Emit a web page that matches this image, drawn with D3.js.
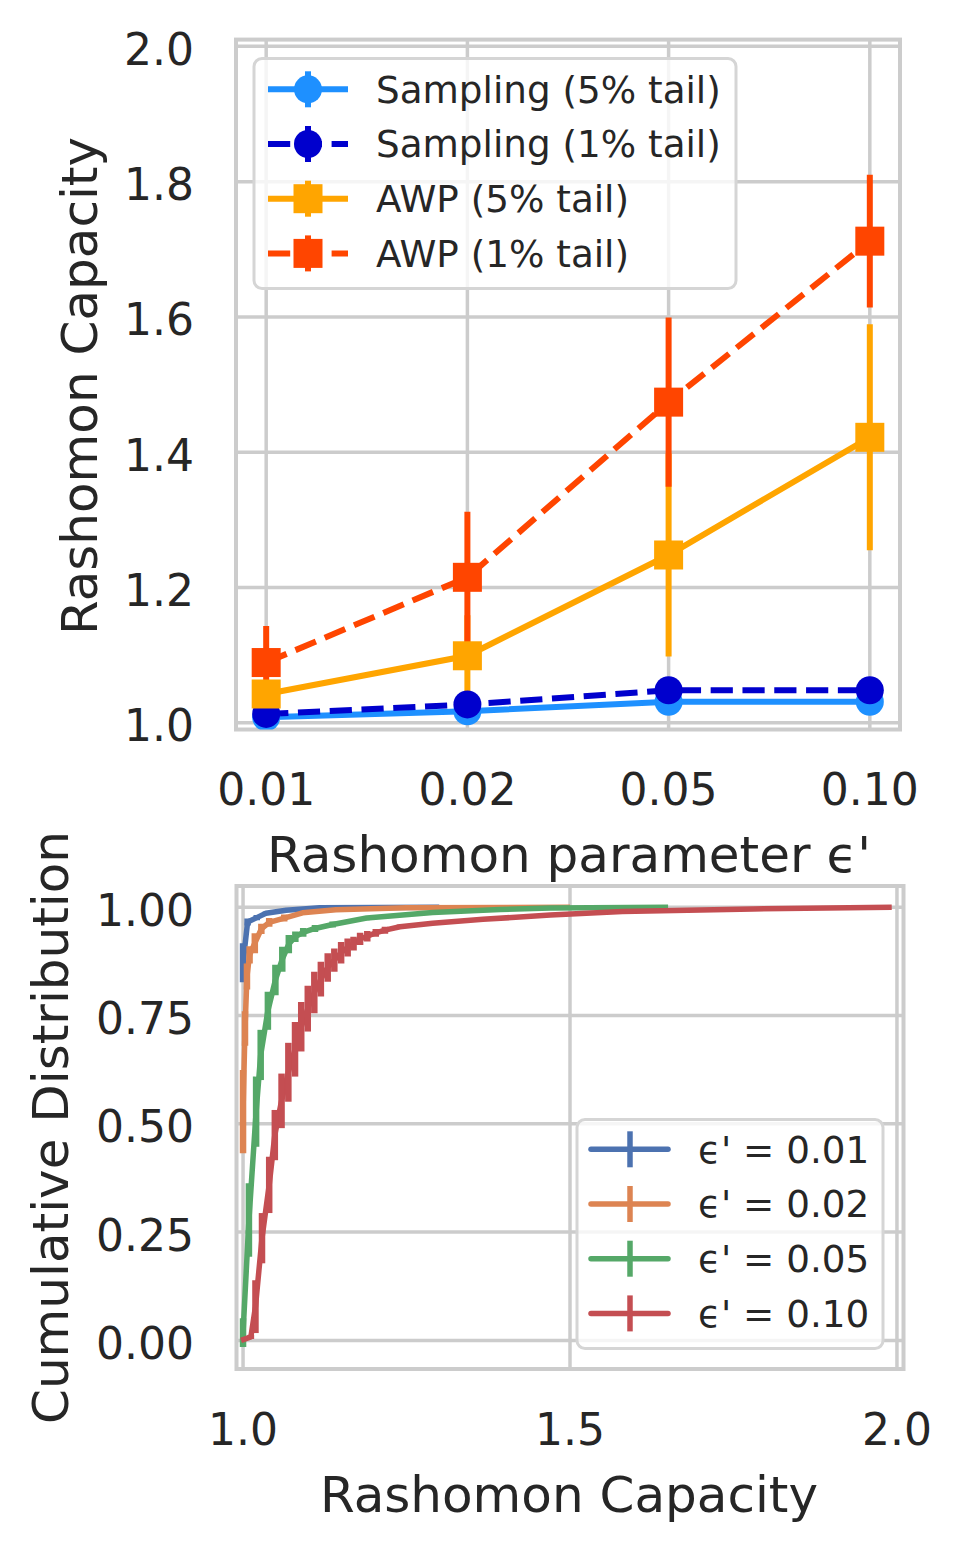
<!DOCTYPE html>
<html>
<head>
<meta charset="utf-8">
<script src="https://cdn.jsdelivr.net/npm/d3@7"></script>
<style>
  html, body { margin: 0; padding: 0; background: #ffffff; }
  svg { display: block; }
  text { font-family: "DejaVu Sans", sans-serif; fill: #262626; }
</style>
</head>
<body>
<svg id="chart" width="961" height="1548"></svg>
<script>
// ---------------- data: top panel ----------------
const epsLabels = ["0.01", "0.02", "0.05", "0.10"];
const sampling5 = [1.008, 1.017, 1.031, 1.031];
const sampling5Err = [0.004, 0.004, 0.004, 0.004];
const sampling1 = [1.013, 1.027, 1.048, 1.048];
const sampling1Err = [0.004, 0.004, 0.004, 0.004];
const awp5 = [1.0425, 1.099, 1.248, 1.422];
const awp5Err = [0.02, 0.06, 0.15, 0.167];
const awp1 = [1.089, 1.215, 1.474, 1.712];
const awp1Err = [0.054, 0.097, 0.125, 0.098];
const topYTicks = [1.0, 1.2, 1.4, 1.6, 1.8, 2.0];
const topSeriesNames = ["Sampling (5% tail)", "Sampling (1% tail)", "AWP (5% tail)", "AWP (1% tail)"];

// ---------------- data: bottom panel (CDF with error bars) ----------------
const cdfNames = ["\u03f5' = 0.01", "\u03f5' = 0.02", "\u03f5' = 0.05", "\u03f5' = 0.10"];
const cdf01x = [1.000, 1.007, 1.021, 1.035, 1.066, 1.117, 1.30];
const cdf01y = [0.872, 0.966, 0.976, 0.986, 0.993, 0.999, 1.0];
const cdf01e = [0.045, 0.008, 0.006, 0.004, 0.003, 0.001, 0.0];

const cdf02x = [1.000, 1.003, 1.006, 1.010, 1.018, 1.028, 1.040, 1.063, 1.091, 1.142, 1.25, 1.50];
const cdf02y = [0.528, 0.72, 0.84, 0.89, 0.917, 0.95, 0.965, 0.975, 0.987, 0.994, 0.999, 1.0];
const cdf02e = [0.096, 0.04, 0.03, 0.02, 0.023, 0.012, 0.01, 0.008, 0.004, 0.002, 0.001, 0.0];

const cdf05x = [1.000, 1.009, 1.020, 1.027, 1.038, 1.0495, 1.060, 1.070, 1.080, 1.092, 1.110, 1.137, 1.189, 1.29, 1.393, 1.47, 1.65];
const cdf05y = [0.018, 0.278, 0.528, 0.659, 0.761, 0.832, 0.88, 0.915, 0.932, 0.942, 0.951, 0.96, 0.975, 0.988, 0.995, 0.998, 1.0];
const cdf05e = [0.033, 0.085, 0.081, 0.058, 0.044, 0.035, 0.029, 0.021, 0.012, 0.01, 0.008, 0.007, 0.005, 0.003, 0.002, 0.001, 0.0];

const cdf10x = [0.997, 1.012, 1.019, 1.029, 1.040, 1.0486, 1.0589, 1.0693, 1.0795, 1.089, 1.099, 1.109, 1.119, 1.1295, 1.1396, 1.150, 1.160, 1.169, 1.179, 1.190, 1.203, 1.217, 1.24, 1.29, 1.367, 1.47, 1.58, 1.78, 1.992];
const cdf10y = [0.0, 0.008, 0.078, 0.236, 0.359, 0.474, 0.553, 0.619, 0.672, 0.724, 0.766, 0.803, 0.834, 0.861, 0.878, 0.895, 0.907, 0.916, 0.927, 0.933, 0.941, 0.947, 0.955, 0.963, 0.972, 0.982, 0.99, 0.996, 1.0];
const cdf10e = [0.0, 0.005, 0.061, 0.058, 0.065, 0.058, 0.063, 0.068, 0.063, 0.057, 0.053, 0.048, 0.04, 0.033, 0.027, 0.025, 0.021, 0.016, 0.014, 0.012, 0.009, 0.008, 0.005, 0.004, 0.003, 0.002, 0.002, 0.001, 0.0];

const botXTicks = [1.0, 1.5, 2.0];
const botYTicks = [0.0, 0.25, 0.5, 0.75, 1.0];

// ---------------- styles ----------------
const gridColor = "#cccccc";
const topColors = ["#1E90FF", "#0000CD", "#FFA500", "#FF4500"];
const topDashed = [false, true, false, true];
const topMarkers = ["circle", "circle", "square", "square"];
const cdfColors = ["#4C72B0", "#DD8452", "#55A868", "#C44E52"];
const dash = "22.2,9.6";

const svg = d3.select("#chart");

// ================= TOP PANEL =================
const tL = 236, tR = 900, tT = 39.6, tB = 729.5;
const tx = d3.scaleLinear().domain([-0.15, 3.15]).range([tL, tR]);
const ty = d3.scaleLinear().domain([0.99, 2.01]).range([tB, tT]);

svg.append("defs").append("clipPath").attr("id", "clipTop")
  .append("rect").attr("x", tL).attr("y", tT).attr("width", tR - tL).attr("height", tB - tT);
svg.select("defs").append("clipPath").attr("id", "clipBot")
  .append("rect").attr("x", 236.5).attr("y", 886).attr("width", 667).attr("height", 483);

const gTop = svg.append("g");
gTop.selectAll(".vg").data(epsLabels).join("line")
  .attr("x1", (d, i) => tx(i)).attr("x2", (d, i) => tx(i))
  .attr("y1", tT).attr("y2", tB)
  .attr("stroke", gridColor).attr("stroke-width", 3.5);
gTop.selectAll(".hg").data(topYTicks).join("line")
  .attr("x1", tL).attr("x2", tR)
  .attr("y1", d => ty(d)).attr("y2", d => ty(d))
  .attr("stroke", gridColor).attr("stroke-width", 3.5);
gTop.append("rect").attr("x", tL).attr("y", tT).attr("width", tR - tL).attr("height", tB - tT)
  .attr("fill", "none").attr("stroke", gridColor).attr("stroke-width", 4);

gTop.selectAll(".xt").data(epsLabels).join("text")
  .attr("x", (d, i) => tx(i)).attr("y", 805)
  .attr("text-anchor", "middle").attr("font-size", 44).text(d => d);
gTop.selectAll(".yt").data(topYTicks).join("text")
  .attr("x", 194).attr("y", d => ty(d) + 18.5)
  .attr("text-anchor", "end").attr("font-size", 44).text(d => d.toFixed(1));
gTop.append("text").attr("x", 569).attr("y", 872).attr("text-anchor", "middle")
  .attr("font-size", 50).text("Rashomon parameter \u03f5'");
gTop.append("text").attr("transform", "translate(97,386) rotate(-90)").attr("text-anchor", "middle")
  .attr("font-size", 50).text("Rashomon Capacity");

const topSeries = [
  { v: sampling5, e: sampling5Err },
  { v: sampling1, e: sampling1Err },
  { v: awp5, e: awp5Err },
  { v: awp1, e: awp1Err }
];
const plotTop = gTop.append("g").attr("clip-path", "url(#clipTop)");
topSeries.forEach((s, si) => {
  plotTop.selectAll(null).data(s.v).join("line")
    .attr("x1", (d, i) => tx(i)).attr("x2", (d, i) => tx(i))
    .attr("y1", (d, i) => ty(d - s.e[i])).attr("y2", (d, i) => ty(d + s.e[i]))
    .attr("stroke", topColors[si]).attr("stroke-width", 6);
});
const topLine = d3.line().x((d, i) => tx(i)).y(d => ty(d));
topSeries.forEach((s, si) => {
  plotTop.append("path").datum(s.v).attr("d", topLine)
    .attr("fill", "none").attr("stroke", topColors[si]).attr("stroke-width", 6)
    .attr("stroke-dasharray", topDashed[si] ? dash : null);
});
topSeries.forEach((s, si) => {
  if (topMarkers[si] === "circle") {
    plotTop.selectAll(null).data(s.v).join("circle")
      .attr("cx", (d, i) => tx(i)).attr("cy", d => ty(d)).attr("r", 14)
      .attr("fill", topColors[si]);
  } else {
    plotTop.selectAll(null).data(s.v).join("rect")
      .attr("x", (d, i) => tx(i) - 14.5).attr("y", d => ty(d) - 14.5)
      .attr("width", 29).attr("height", 29).attr("fill", topColors[si]);
  }
});

const lgT = gTop.append("g");
lgT.append("rect").attr("x", 254).attr("y", 58.5).attr("width", 482).attr("height", 230).attr("rx", 8)
  .attr("fill", "rgba(255,255,255,0.8)").attr("stroke", "#d5d5d5").attr("stroke-width", 3);
topSeriesNames.forEach((name, si) => {
  const yy = 89.3 + si * 54.7;
  const c = topColors[si];
  lgT.append("line").attr("x1", 268).attr("x2", 348).attr("y1", yy).attr("y2", yy)
    .attr("stroke", c).attr("stroke-width", 6).attr("stroke-dasharray", topDashed[si] ? dash : null);
  lgT.append("line").attr("x1", 308).attr("x2", 308).attr("y1", yy - 18).attr("y2", yy + 18)
    .attr("stroke", c).attr("stroke-width", 6);
  if (topMarkers[si] === "circle") {
    lgT.append("circle").attr("cx", 308).attr("cy", yy).attr("r", 14).attr("fill", c);
  } else {
    lgT.append("rect").attr("x", 308 - 14.5).attr("y", yy - 14.5).attr("width", 29).attr("height", 29).attr("fill", c);
  }
  lgT.append("text").attr("x", 376).attr("y", yy + 13.4).attr("font-size", 37.3).text(name);
});

// ================= BOTTOM PANEL =================
const bL = 236.5, bR = 903.5, bT = 886, bB = 1369;
const bx = d3.scaleLinear().domain([0.99, 2.01]).range([bL, bR]);
const by = d3.scaleLinear().domain([-0.066, 1.049]).range([bB, bT]);

const gBot = svg.append("g");
gBot.selectAll(".vg").data(botXTicks).join("line")
  .attr("x1", d => bx(d)).attr("x2", d => bx(d)).attr("y1", bT).attr("y2", bB)
  .attr("stroke", gridColor).attr("stroke-width", 3.5);
gBot.selectAll(".hg").data(botYTicks).join("line")
  .attr("x1", bL).attr("x2", bR).attr("y1", d => by(d)).attr("y2", d => by(d))
  .attr("stroke", gridColor).attr("stroke-width", 3.5);
gBot.append("rect").attr("x", bL).attr("y", bT).attr("width", bR - bL).attr("height", bB - bT)
  .attr("fill", "none").attr("stroke", gridColor).attr("stroke-width", 4);

gBot.selectAll(".xt").data(botXTicks).join("text")
  .attr("x", d => bx(d)).attr("y", 1445).attr("text-anchor", "middle").attr("font-size", 44)
  .text(d => d.toFixed(1));
gBot.selectAll(".yt").data(botYTicks).join("text")
  .attr("x", 194).attr("y", d => by(d) + 18.5).attr("text-anchor", "end").attr("font-size", 44)
  .text(d => d.toFixed(2));
gBot.append("text").attr("x", 569).attr("y", 1512).attr("text-anchor", "middle")
  .attr("font-size", 50).text("Rashomon Capacity");
gBot.append("text").attr("transform", "translate(68,1127.5) rotate(-90)").attr("text-anchor", "middle")
  .attr("font-size", 50).text("Cumulative Distribution");

const cdfSeries = [
  { x: cdf01x, y: cdf01y, e: cdf01e },
  { x: cdf02x, y: cdf02y, e: cdf02e },
  { x: cdf05x, y: cdf05y, e: cdf05e },
  { x: cdf10x, y: cdf10y, e: cdf10e }
];
const plotBot = gBot.append("g").attr("clip-path", "url(#clipBot)");
const cdfLine = d3.line().x(d => bx(d[0])).y(d => by(d[1]));
cdfSeries.forEach((s, si) => {
  const pts = s.x.map((xv, i) => [xv, s.y[i], s.e[i]]);
  const g = plotBot.append("g");
  g.append("path").datum(pts).attr("d", cdfLine)
    .attr("fill", "none").attr("stroke", cdfColors[si]).attr("stroke-width", 5.5)
    .attr("stroke-linejoin", "round");
  g.selectAll("line").data(pts.filter(p => p[2] > 0)).join("line")
    .attr("x1", p => bx(p[0])).attr("x2", p => bx(p[0]))
    .attr("y1", p => by(p[1] - p[2])).attr("y2", p => by(p[1] + p[2]))
    .attr("stroke", cdfColors[si]).attr("stroke-width", 6.5);
});

const lgB = gBot.append("g");
lgB.append("rect").attr("x", 577).attr("y", 1119.5).attr("width", 306).attr("height", 229).attr("rx", 8)
  .attr("fill", "rgba(255,255,255,0.8)").attr("stroke", "#d5d5d5").attr("stroke-width", 3);
cdfNames.forEach((name, si) => {
  const yy = 1149.3 + si * 54.7;
  const c = cdfColors[si];
  lgB.append("line").attr("x1", 591).attr("x2", 668).attr("y1", yy).attr("y2", yy)
    .attr("stroke", c).attr("stroke-width", 5.5).attr("stroke-linecap", "round");
  lgB.append("line").attr("x1", 630).attr("x2", 630).attr("y1", yy - 18).attr("y2", yy + 18)
    .attr("stroke", c).attr("stroke-width", 5.5);
  lgB.append("text").attr("x", 698).attr("y", yy + 13.4).attr("font-size", 37.3).text(name);
});
</script>
</body>
</html>
